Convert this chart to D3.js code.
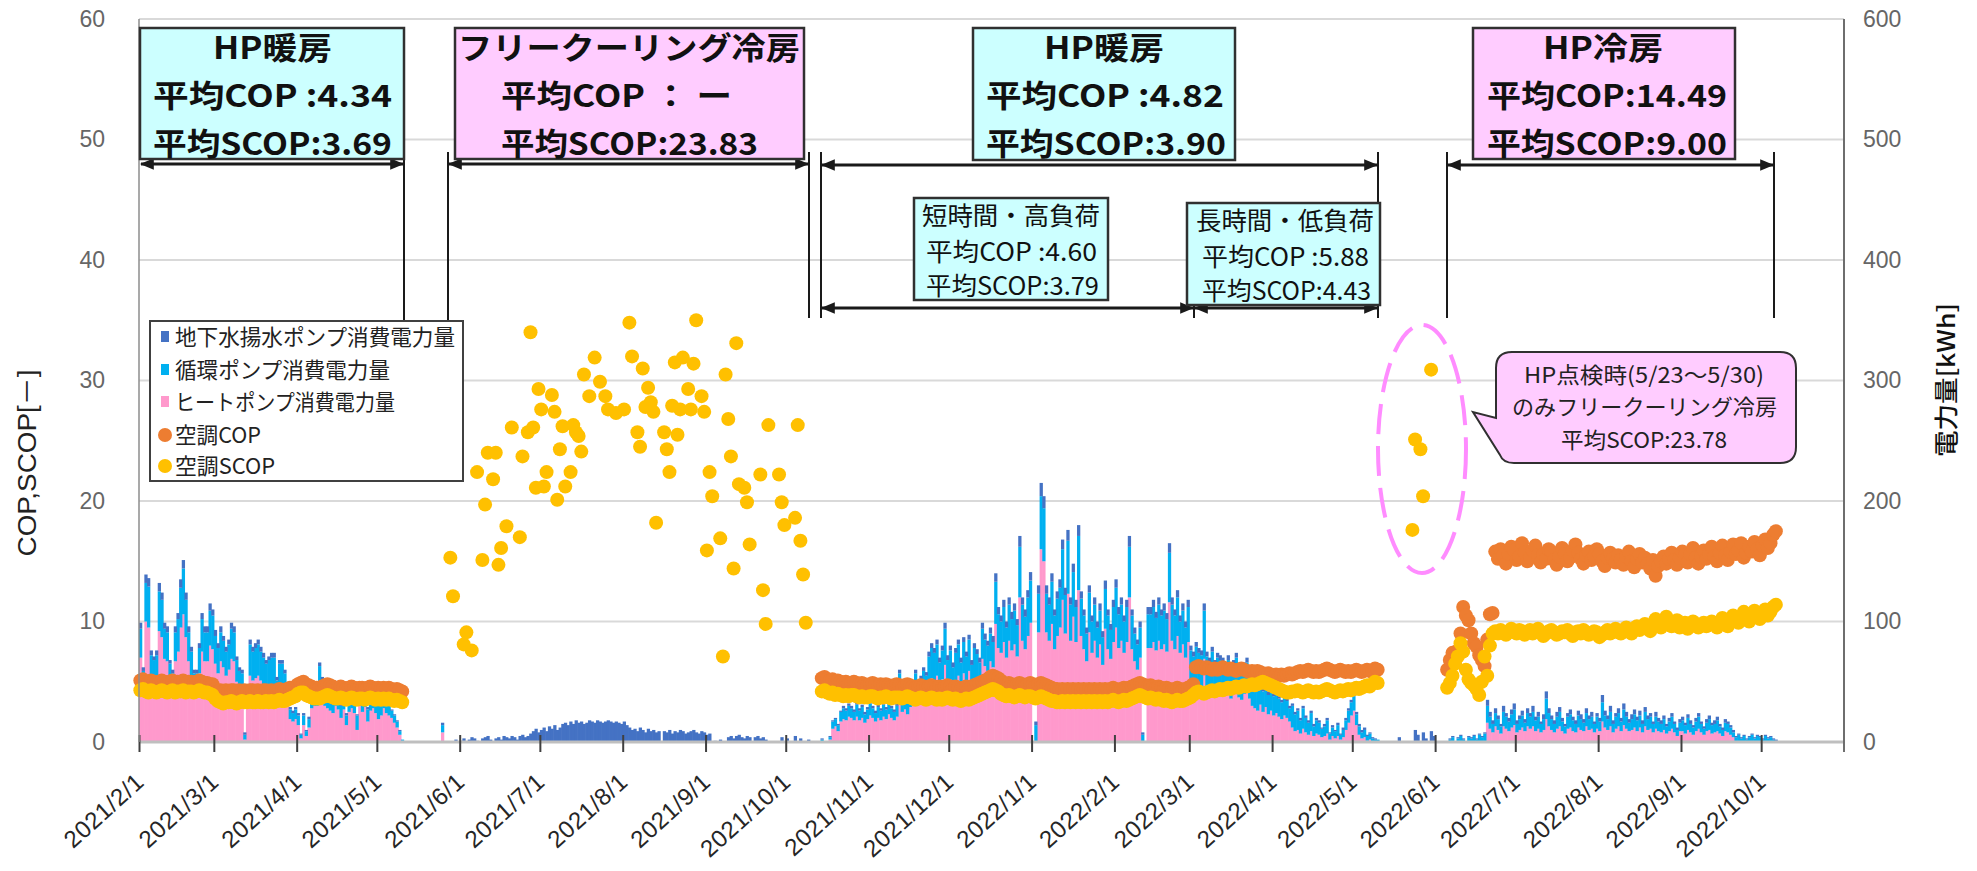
<!DOCTYPE html>
<html><head><meta charset="utf-8">
<script src="https://cdn.jsdelivr.net/npm/d3@7"></script>
<style>body{margin:0;background:#fff}svg{display:block}</style>
</head><body><svg id="c" width="1977" height="871"></svg>
<script>
// ---------- DATA ----------
const monthTicks = ["2021-02-01","2021-03-01","2021-04-01","2021-05-01","2021-06-01","2021-07-01","2021-08-01","2021-09-01","2021-10-01","2021-11-01","2021-12-01","2022-01-01","2022-02-01","2022-03-01","2022-04-01","2022-05-01","2022-06-01","2022-07-01","2022-08-01","2022-09-01","2022-10-01"];
const leftTicks = [0,10,20,30,40,50,60];
const rightTicks = [0,100,200,300,400,500,600];
const seriesNames = ["地下水揚水ポンプ消費電力量","循環ポンプ消費電力量","ヒートポンプ消費電力量","空調COP","空調SCOP"];

// daily energy [kWh] - heating 2021 (from 2021-02-01)
const h1HP = [70,44,100,95,53,50,53,92,87,69,67,48,42,67,75,95,106,87,67,55,42,42,57,75,67,67,80,77,65,57,67,62,55,60,69,67,50,43,42,2,32,55,51,53,55,51,48,44,46,48,48,35,44,44,39,30,19,17,19,
14,3,14,5,12,28,30,30,38,32,30,28,26,24,30,27,20,27,14,25,28,24,10,30,25,29,17,26,28,24,19,22,28,24,22,20,16,12,6,1];
const h1Circ = [24,15,32,34,19,18,19,33,31,25,24,17,15,24,27,33,38,31,24,20,15,15,21,27,24,24,29,28,23,21,24,22,20,21,25,24,18,16,15,4,11,26,24,25,26,24,22,21,22,22,22,16,21,21,18,14,8,7,8,
8,3,8,4,7,10,12,17,25,19,14,9,8,7,9,8,10,16,8,9,9,8,12,9,15,17,10,8,7,9,11,13,9,7,8,6,6,5,3,1];
const h1GW = [5,3,7,7,4,3,4,7,6,5,5,3,3,5,5,7,7,6,5,4,3,3,4,5,5,5,6,5,5,4,5,4,4,4,5,5,3,3,3,2,3,4,4,4,4,4,4,3,3,4,4,3,3,3,3,2,2,2,2,
2,1,2,1,2,2,2,2,3,3,2,2,2,2,2,2,2,3,2,2,2,2,1,2,3,3,2,2,2,2,2,3,2,2,1,1,1,1,1,0];
// free cooling 2021 (from 2021-05-12)
const fcHP = [0,0,0,0,0,0,0,0,0,0,0,0,0,8];
const fcCirc = [0,0,0,0,0,0,0,0,0,0,0,0,0,6];
const fcGW = [0,0,0,0,0,0,0,0,0,0,0,0,0,2,0,0,0,0,2,0,1,3,0,2,4,3,1,0,3,4,5,2,0,3,4,2,5,4,3,5,4,2,5,6,4,5,
7,9,11,8,10,12,9,13,11,14,10,12,15,16,14,17,15,18,16,17,15,16,18,17,16,18,17,16,17,18,17,16,17,16,15,17,14,
12,10,11,9,12,10,8,11,9,10,8,9,0,9,8,10,7,9,8,10,9,7,8,9,10,8,7,9,8,6,7,0,1,0,2,0,0,4,5,3,5,6,4,3,5,4,0,4,5,3,4,2,0,0,0,0,0,4,0,3,0,0,5,0,3,0,0,2,0];
// heating 2021-22 (from 2021-10-14)
const h2HP = [0,0,0,2,11,13,9,17,19,18,21,20,18,21,18,20,16,19,22,20,17,20,18,21,19,23,20,18,21,39,25,27,23,29,33,39,31,36,40,38,49,53,51,55,46,52,64,
47,52,42,51,55,46,57,49,59,44,53,50,46,69,63,59,67,62,98,78,74,83,70,84,76,81,71,120,84,77,88,99,0,0,91,160,150,91,84,98,77,88,95,118,90,123,84,104,83,126,
88,77,67,91,74,84,70,81,64,94,77,69,83,95,78,84,74,83,120,77,67,60,70,0,0,78,78,83,76,84,77,81,75,116,84,77,88,74,81,70,83,48,45,50,47,46,69,45,42,47,41,44,43,
42,39,43,36,41,44,37,35,40,42,36,30,28,26,31,25,29,23,26,22,24,21,19,22,20,17,12,9,10,7,11,8,6,9,5,7,6,4,5,7,2,5,3,5,2,4,10,16,22,26,14,6,3,4,1,2,0,0,0];
const h2Circ = [2,0,0,2,6,6,5,8,9,8,9,8,7,10,8,9,7,8,10,8,7,9,8,10,8,10,8,7,9,18,11,13,10,14,14,18,14,16,19,17,22,25,23,26,20,24,30,
21,24,20,23,26,20,26,22,26,20,25,23,20,25,22,21,23,21,35,28,26,29,25,30,26,28,26,42,30,27,32,35,0,14,32,44,44,32,30,35,28,31,33,42,32,44,30,37,29,45,
31,28,23,33,26,30,25,28,23,33,28,24,29,33,28,30,26,29,42,28,23,21,25,6,0,28,28,29,27,30,28,28,27,41,30,28,32,26,28,25,29,28,26,29,27,26,40,26,24,28,23,26,25,
24,22,25,21,23,26,21,20,22,24,21,22,19,19,22,17,20,16,18,16,17,15,14,16,14,11,18,14,16,11,17,12,10,15,8,11,10,7,8,11,5,7,6,9,4,6,8,10,11,12,9,7,5,6,4,5,3,2,2];
const h2GW = [1,0,0,1,1,1,1,1,2,2,2,2,2,2,2,2,2,2,2,2,2,2,2,2,2,2,2,2,2,3,2,2,2,2,3,3,3,3,3,3,4,4,4,4,4,4,5,
4,4,4,4,4,4,4,4,4,4,4,4,4,5,5,4,5,5,7,6,5,6,5,6,6,6,5,9,6,6,6,7,0,3,7,11,10,7,6,7,5,6,7,8,6,9,6,7,6,9,
6,5,5,6,5,6,5,6,5,7,5,5,6,7,6,6,5,6,9,5,5,4,5,2,0,6,6,6,5,6,5,6,5,8,6,5,6,5,6,5,6,4,4,4,4,4,6,4,4,4,4,4,4,
4,4,4,3,4,4,4,3,4,4,3,3,3,3,3,3,3,3,3,2,3,2,2,2,2,2,2,2,2,2,2,2,2,2,2,2,2,1,2,2,1,2,1,2,1,2,2,2,2,2,2,2,2,2,1,1,1,1,0];
// HP inspection gap (from 2022-05-13)
const gapGW = [0,0,0,0,0,4,0,0,0,0,0,10,6,0,8,3,0,9,5,0,0];
// cooling 2022 (from 2022-06-05)
const coolHP = [0,0,0,0,0,0,0,0,0,0,0,0,0,0,0,16,11,8,13,10,7,13,11,9,12,14,8,10,12,9,13,11,13,9,11,8,10,19,
13,10,8,11,13,9,7,11,12,9,8,12,10,9,13,10,11,8,11,9,17,12,10,13,8,11,13,9,14,11,9,10,12,9,12,8,13,10,11,8,11,9,
8,10,7,9,11,8,5,9,9,7,10,8,6,9,11,8,6,9,10,7,8,9,7,5,9,8,6,4,0,0,0,0,0,0,0,0,0,0,0,0,0,0,0,0];
const coolCirc = [0,2,4,0,3,5,2,0,4,3,5,2,6,4,7,14,10,7,11,9,6,12,10,8,11,13,7,9,10,7,11,10,12,9,10,7,9,17,
11,9,7,10,12,8,6,10,11,9,7,10,9,7,11,9,10,7,10,8,16,10,9,12,7,10,11,8,13,10,7,9,11,9,10,7,12,9,10,7,10,8,
7,9,6,8,10,7,5,7,9,7,10,7,6,8,10,7,5,7,9,7,7,9,6,5,7,7,6,4,4,6,3,5,2,4,6,3,5,4,2,5,3,4,2,1];
const coolGW = [0,1,1,0,1,1,1,0,1,1,1,1,1,1,1,5,4,3,4,3,2,5,3,3,4,5,3,3,4,3,4,3,5,3,4,2,4,6,
4,3,3,4,4,3,2,3,4,3,3,4,4,3,4,3,4,2,3,3,6,4,3,5,3,3,4,3,5,4,3,4,4,3,4,3,4,3,3,2,4,3,
3,3,2,3,3,2,2,3,3,2,3,3,2,3,3,2,2,3,3,2,3,3,2,2,3,2,2,2,1,1,1,1,1,1,1,1,1,1,1,1,1,1,1,1];

// daily COP / SCOP
const h1Cop = [5.1,5.2,5.0,4.9,5.1,5.0,4.9,5.0,5.1,5.0,4.9,5.0,5.1,4.9,5.0,5.0,5.1,4.9,5.0,5.0,4.9,5.0,5.1,5.0,4.9,4.9,4.8,4.8,
4.4,4.2,4.3,4.2,4.3,4.2,4.3,4.3,4.2,4.3,4.2,4.3,4.2,4.3,4.3,4.2,4.3,4.2,4.3,4.3,4.2,4.3,4.2,4.3,4.4,4.3,4.3,4.4,4.5,4.5,4.6,
4.8,4.9,5.0,4.8,4.7,4.6,4.5,4.5,
4.5,4.6,4.7,4.8,4.7,4.6,4.5,4.5,4.6,4.5,4.4,4.5,4.6,4.5,4.4,4.5,4.5,4.4,4.5,4.6,4.5,4.4,4.5,4.4,4.5,4.4,4.5,4.4,4.3,4.4,4.3,4.2];
const h1Scop = [4.3,4.4,4.2,4.1,4.3,4.2,4.1,4.2,4.3,4.2,4.1,4.2,4.3,4.1,4.2,4.2,4.3,4.1,4.2,4.2,4.1,4.2,4.3,4.2,4.1,4.1,4.0,3.9,
3.6,3.4,3.3,3.2,3.3,3.3,3.4,3.3,3.2,3.3,3.4,3.3,3.3,3.4,3.3,3.3,3.4,3.3,3.3,3.4,3.3,3.4,3.3,3.4,3.5,3.4,3.4,3.5,3.6,3.7,3.8,
4.0,4.1,4.1,3.9,3.8,3.7,3.6,3.6,
3.6,3.7,3.8,3.9,3.8,3.7,3.6,3.6,3.7,3.6,3.5,3.6,3.7,3.6,3.5,3.6,3.6,3.5,3.6,3.7,3.6,3.5,3.6,3.5,3.6,3.5,3.6,3.5,3.4,3.5,3.4,3.3];
const h2Cop = [5.3,5.4,5.2,5.1,5.2,5.0,5.1,
5.0,4.9,5.0,4.8,4.9,5.0,4.9,4.8,4.9,4.8,4.7,4.8,4.9,4.8,4.7,4.8,4.7,4.8,4.7,4.6,4.7,4.8,
4.7,4.6,4.7,4.8,4.7,4.6,4.5,4.6,4.7,4.6,4.5,4.6,4.7,4.6,4.5,4.6,4.5,4.6,4.7,4.6,4.5,4.6,4.5,4.4,4.5,4.6,4.5,4.6,4.7,4.8,4.9,5.0,5.1,5.2,
5.4,5.5,5.4,5.3,5.1,
4.9,4.8,4.9,4.8,4.7,4.8,4.9,4.8,4.7,4.8,4.9,4.8,4.7,4.8,4.9,4.8,4.7,4.6,4.5,4.4,4.4,4.3,
4.4,4.3,4.4,4.3,4.4,4.3,4.4,4.3,4.4,4.3,4.4,4.3,4.4,4.3,4.4,4.3,4.4,4.3,4.4,4.5,4.4,4.3,4.4,4.5,4.4,4.5,4.6,4.7,
4.8,4.9,4.8,4.7,4.6,4.7,4.6,4.5,4.6,
4.5,4.4,4.5,4.4,4.3,4.4,4.5,4.4,4.3,4.4,4.5,4.6,4.8,
6.2,6.3,6.2,6.1,6.2,6.1,6.0,6.1,6.0,6.1,6.2,6.1,6.0,6.1,6.0,5.9,6.0,6.1,6.0,5.9,5.8,5.9,5.8,5.9,5.8,
5.7,5.6,5.7,5.6,5.5,5.6,5.5,5.6,5.5,5.6,5.7,5.6,5.7,5.8,
5.9,5.8,5.9,6.0,5.9,5.8,5.9,5.8,5.9,6.0,6.1,6.0,5.9,5.8,5.9,6.0,5.9,5.8,5.9,5.8,5.9,6.0,5.9,5.8,5.9,6.0,5.9,5.8,6.1,6.0];
const h2Scop = [4.2,4.3,4.1,4.0,4.1,3.9,4.0,
3.9,3.8,3.9,3.8,3.9,3.9,3.8,3.7,3.8,3.7,3.7,3.8,3.8,3.7,3.6,3.7,3.7,3.8,3.7,3.6,3.7,3.7,
3.7,3.6,3.7,3.8,3.7,3.6,3.5,3.6,3.7,3.6,3.5,3.6,3.7,3.6,3.5,3.6,3.5,3.6,3.7,3.6,3.5,3.6,3.5,3.4,3.5,3.6,3.5,3.6,3.7,3.8,3.9,4.0,4.1,4.2,
4.3,4.4,4.3,4.2,4.0,
3.9,3.8,3.9,3.8,3.7,3.8,3.9,3.8,3.7,3.8,3.8,3.7,3.6,3.7,3.8,3.7,3.6,3.5,3.4,3.4,3.3,3.3,
3.4,3.3,3.4,3.3,3.4,3.3,3.4,3.3,3.4,3.3,3.4,3.3,3.4,3.3,3.4,3.3,3.4,3.3,3.4,3.5,3.4,3.3,3.4,3.5,3.4,3.5,3.6,3.7,
3.8,3.9,3.8,3.7,3.6,3.7,3.6,3.5,3.6,
3.5,3.4,3.5,3.4,3.3,3.4,3.5,3.4,3.4,3.5,3.6,3.7,3.9,
4.1,4.2,4.1,4.0,4.1,4.2,4.3,4.2,4.3,4.4,4.3,4.4,4.5,4.4,4.5,4.6,4.5,4.6,4.7,4.6,4.7,4.8,4.7,4.8,4.9,
5.0,4.9,4.8,4.7,4.6,4.5,4.4,4.3,4.2,4.1,4.1,4.2,4.2,4.3,
4.2,4.1,4.2,4.3,4.2,4.1,4.2,4.1,4.2,4.3,4.4,4.3,4.2,4.1,4.2,4.3,4.2,4.3,4.4,4.3,4.4,4.5,4.4,4.5,4.6,4.7,4.6,4.8,5.0,4.9];
const coolCop = [6.0,6.8,7.4,7.0,7.6,9.0,11.2,10.5,10.1,9.0,8.2,7.9,7.2,6.8,6.3,8.5,10.6,10.7,
15.8,15.2,16.0,15.5,14.8,15.6,16.2,15.9,15.1,15.4,16.5,15.7,15.0,15.3,15.9,16.3,15.5,14.9,15.6,15.2,
16.0,15.8,15.1,14.7,15.4,16.1,15.6,15.0,15.3,15.9,16.4,15.7,15.2,14.8,15.5,15.8,15.1,15.4,16.0,15.6,
15.0,14.6,15.3,15.7,15.2,14.9,15.5,15.1,14.7,15.4,15.8,15.0,14.5,15.2,15.6,14.9,15.3,14.8,14.4,15.1,
13.8,14.6,15.0,15.4,14.8,15.2,15.7,15.1,14.7,15.3,15.8,15.5,14.9,15.6,16.1,15.3,14.8,15.4,15.9,15.2,
15.6,16.2,15.4,15.0,15.7,16.3,15.5,15.1,15.8,16.4,15.6,15.9,16.5,15.3,15.7,16.2,15.8,16.6,16.0,15.5,
16.3,16.8,16.1,16.5,17.2,17.5];
const coolScop = [4.5,4.9,5.5,6.5,7.1,8.2,7.5,6.0,5.2,4.9,4.7,4.4,3.9,5.0,7.1,5.5,8.0,9.0,
9.2,9.0,9.3,9.1,8.9,9.2,9.4,9.1,9.0,9.3,9.2,8.9,9.1,9.3,9.0,9.2,9.4,9.1,8.8,9.0,
9.2,9.3,9.1,8.9,9.0,9.2,9.1,9.3,9.0,8.8,9.1,9.2,9.0,9.3,9.1,8.9,9.0,9.2,9.1,8.7,
8.9,9.1,9.3,9.0,9.2,9.4,9.1,9.0,9.3,9.5,9.2,9.0,9.4,9.6,9.3,9.5,9.8,9.4,9.2,9.6,
10.2,9.8,9.5,9.7,10.4,9.9,9.6,9.8,10.1,9.5,9.7,9.9,9.4,9.6,10.0,9.8,9.5,9.7,9.9,9.6,
9.8,10.0,9.7,9.5,9.9,10.3,9.8,9.6,10.0,10.5,10.2,9.9,10.4,10.8,10.3,10.0,10.6,10.9,10.4,10.2,
10.7,11.0,10.5,10.8,11.2,11.4];
// free-cooling SCOP (day offset from 2021-02-01)
const fcScopDay = [116,117,121,122,124,126,128,129,130,132,133,134,135,137,139,142,143,145,146,147,148,149,150,151,152,154,155,156,157,158,159,161,162,163,164,165,166,168,170,172,174,175,178,181,183,184,186,187,188,189,190,191,192,193,196,197,198,199,200,201,202,203,205,206,207,208,210,211,212,213,214,217,218,219,220,221,222,223,224,226,227,228,232,233,234,235,239,240,241,245,246,247,248,249];
const fcScopVal = [15.3,12.1,8.1,9.1,7.6,22.4,15.1,19.7,24.0,21.8,24.0,14.7,16.1,17.9,26.1,17.0,23.7,25.7,34.0,26.1,21.1,29.3,27.6,21.2,22.4,28.8,27.4,20.1,24.3,26.2,21.2,22.4,26.3,25.7,25.4,24.1,30.5,28.7,31.9,29.9,28.7,27.6,27.3,27.6,34.8,32.0,25.7,24.5,31.0,27.8,29.4,28.2,27.4,18.2,25.7,24.3,22.4,27.9,31.5,25.5,27.6,31.9,29.3,27.6,31.4,35.0,28.7,27.4,15.9,22.4,20.4,16.9,7.1,30.5,26.8,23.7,14.4,33.1,21.4,21.1,19.9,16.4,22.2,12.6,9.8,26.3,22.2,19.9,18.0,18.6,26.3,16.7,13.9,9.9];
const chkScopDay = [476,477,479,480,483];
const chkScopVal = [17.6,25.1,24.3,20.4,30.9];

// ---------- CHART ----------
const parse = d3.timeParse("%Y-%m-%d");
const base = parse("2021-02-01");
const x = d3.scaleTime().domain([base, parse("2022-11-01")]).range([139,1844]);
const yL = d3.scaleLinear().domain([0,60]).range([742,19]);
const yR = d3.scaleLinear().domain([0,600]).range([742,19]);
const svg = d3.select("#c");
const LAT = "'Liberation Sans', Arial, sans-serif";
const JP = "'Noto Sans CJK JP', sans-serif";
const COL = {gw:"#4472C4", circ:"#00B0F0", hp:"#FF99CC", cop:"#ED7D31", scop:"#FFC000"};

// gridlines
svg.append("g").selectAll("line").data(leftTicks.slice(1)).join("line")
  .attr("x1",139).attr("x2",1844).attr("y1",d=>yL(d)).attr("y2",d=>yL(d))
  .attr("stroke","#D9D9D9").attr("stroke-width",2);

// bars
const segments = [
  {start:"2021-02-01", hp:h1HP, circ:h1Circ, gw:h1GW},
  {start:"2021-05-12", hp:fcHP, circ:fcCirc, gw:fcGW},
  {start:"2021-10-14", hp:h2HP, circ:h2Circ, gw:h2GW},
  {start:"2022-05-13", hp:[], circ:[], gw:gapGW},
  {start:"2022-06-05", hp:coolHP, circ:coolCirc, gw:coolGW}];
const rows = [];
segments.forEach(s=>{
  const s0 = parse(s.start);
  const n = Math.max(s.hp.length, s.circ.length, s.gw.length);
  for (let i=0;i<n;i++) rows.push({date:d3.timeDay.offset(s0,i), hp:s.hp[i]||0, circ:s.circ[i]||0, gw:s.gw[i]||0});
});
const stacked = d3.stack().keys(["hp","circ","gw"])(rows);
svg.append("g").selectAll("g").data(stacked).join("g").attr("fill",d=>COL[d.key])
  .selectAll("rect").data(d=>d.filter(p=>p[1]>p[0])).join("rect")
  .attr("x",p=>x(p.data.date))
  .attr("width",p=>x(d3.timeDay.offset(p.data.date,1))-x(p.data.date)+0.6)
  .attr("y",p=>yR(p[1])).attr("height",p=>yR(p[0])-yR(p[1]));

// axis baseline
svg.append("line").attr("x1",139).attr("x2",1844).attr("y1",742).attr("y2",742).attr("stroke","#BFBFBF").attr("stroke-width",3);

// points
const half = (x(d3.timeDay.offset(base,1))-x(base))/2;
const ser = (start, vals) => { const s0=parse(start); return vals.map((v,i)=>({date:d3.timeDay.offset(s0,i), v})); };
const copPts = [...ser("2021-02-01",h1Cop), ...ser("2021-10-14",h2Cop), ...ser("2022-06-05",coolCop)];
const scopPts = [...ser("2021-02-01",h1Scop),
  ...fcScopDay.map((d,i)=>({date:d3.timeDay.offset(base,d), v:fcScopVal[i]})),
  ...ser("2021-10-14",h2Scop),
  ...chkScopDay.map((d,i)=>({date:d3.timeDay.offset(base,d), v:chkScopVal[i]})),
  ...ser("2022-06-05",coolScop)];
svg.append("g").attr("fill",COL.cop).selectAll("circle").data(copPts).join("circle")
  .attr("cx",d=>x(d.date)+half).attr("cy",d=>yL(d.v)).attr("r",7);
svg.append("g").attr("fill",COL.scop).selectAll("circle").data(scopPts).join("circle")
  .attr("cx",d=>x(d.date)+half).attr("cy",d=>yL(d.v)).attr("r",7);

// axes
const gx = svg.append("g").attr("transform","translate(0,742)")
  .call(d3.axisBottom(x).tickValues(monthTicks.map(parse)).tickFormat(d3.timeFormat("%Y/%-m/%-d")).tickSize(10));
gx.select(".domain").remove();
gx.selectAll(".tick line").attr("y1",-7).attr("y2",10).attr("stroke","#404040").attr("stroke-width",2);
gx.selectAll(".tick text").attr("x",0).attr("y",0).attr("dy",0)
  .attr("transform","translate(6,42) rotate(-42)").attr("text-anchor","end")
  .attr("font-family",LAT).attr("font-size",24).attr("letter-spacing","0.5px").attr("fill","#262626");

const gl = svg.append("g").attr("transform","translate(139,0)")
  .call(d3.axisLeft(yL).tickValues(leftTicks).tickSize(0).tickPadding(34));
gl.select(".domain").remove();
gl.selectAll(".tick text").attr("font-family",LAT).attr("font-size",23).attr("fill","#666");
svg.append("line").attr("x1",139).attr("x2",139).attr("y1",19).attr("y2",742).attr("stroke","#8C8C8C").attr("stroke-width",1.5);

const gr = svg.append("g").attr("transform","translate(1844,0)")
  .call(d3.axisRight(yR).tickValues(rightTicks).tickSize(0).tickPadding(19));
gr.select(".domain").remove();
gr.selectAll(".tick text").attr("font-family",LAT).attr("font-size",23).attr("fill","#666");
svg.append("line").attr("x1",1844).attr("x2",1844).attr("y1",19).attr("y2",752).attr("stroke","#6E6E6E").attr("stroke-width",2);

// axis titles
svg.append("text").attr("transform","translate(36,463) rotate(-90)").attr("text-anchor","middle")
  .attr("font-family",LAT+",'Noto Sans CJK JP'").attr("font-size",25).attr("fill","#222")
  .attr("textLength",187).attr("lengthAdjust","spacingAndGlyphs").text("COP,SCOP[－]");
svg.append("text").attr("transform","translate(1955,380) rotate(-90)").attr("text-anchor","middle")
  .attr("font-family",JP).attr("font-size",24).attr("font-weight",500).attr("fill","#111")
  .attr("textLength",154).attr("lengthAdjust","spacingAndGlyphs").text("電力量[kWh]");

// ---------- annotations ----------
const defs = svg.append("defs");
defs.append("marker").attr("id","ah").attr("viewBox","0 0 12 10").attr("refX",11).attr("refY",5)
  .attr("markerWidth",14).attr("markerHeight",12).attr("markerUnits","userSpaceOnUse").attr("orient","auto-start-reverse")
  .append("path").attr("d","M0,0 L12,5 L0,10 z").attr("fill","#1a1a1a");

const vlines = [[404,152,321],[448,152,321],[809,152,318],[821,152,318],[1378,152,318],[1447,152,318],[1774,152,318],[1194,298,318]];
svg.append("g").selectAll("line").data(vlines).join("line")
  .attr("x1",d=>d[0]).attr("x2",d=>d[0]).attr("y1",d=>d[1]).attr("y2",d=>d[2])
  .attr("stroke","#1a1a1a").attr("stroke-width",2);
const arrows = [[140,404,164],[448,809,164],[821,1378,165],[1447,1774,165],[821,1194,308],[1194,1378,308]];
svg.append("g").selectAll("line").data(arrows).join("line")
  .attr("x1",d=>d[0]+1).attr("x2",d=>d[1]-1).attr("y1",d=>d[2]).attr("y2",d=>d[2])
  .attr("stroke","#1a1a1a").attr("stroke-width",3)
  .attr("marker-start","url(#ah)").attr("marker-end","url(#ah)");

function box(b){
  svg.append("rect").attr("x",b.x).attr("y",b.y).attr("width",b.w).attr("height",b.h)
    .attr("fill",b.fill).attr("stroke","#303030").attr("stroke-width",2.5);
  b.lines.forEach(l=>{
    svg.append("text").attr("x",l[0]).attr("y",l[1]).attr("textLength",l[2]).attr("lengthAdjust","spacingAndGlyphs")
      .attr("font-family",JP).attr("font-size",b.fs).attr("font-weight",b.fw).attr("fill","#111").text(l[3]);
  });
}
box({x:140,y:28,w:264,h:131,fill:"#CCFFFF",fs:31,fw:700,lines:[[213,59,119,"HP暖房"],[153,107,239,"平均COP :4.34"],[153,155,239,"平均SCOP:3.69"]]});
box({x:455,y:28,w:349,h:131,fill:"#FFCCFF",fs:31,fw:700,lines:[[458,59,342,"フリークーリング冷房"],[501,107,231,"平均COP ： ー"],[501,155,257,"平均SCOP:23.83"]]});
box({x:973,y:28,w:262,h:132,fill:"#CCFFFF",fs:31,fw:700,lines:[[1044,59,120,"HP暖房"],[986,107,238,"平均COP :4.82"],[986,155,240,"平均SCOP:3.90"]]});
box({x:1473,y:28,w:262,h:131,fill:"#FFCCFF",fs:31,fw:700,lines:[[1543,59,120,"HP冷房"],[1487,107,240,"平均COP:14.49"],[1487,155,240,"平均SCOP:9.00"]]});
box({x:914,y:198,w:194,h:102,fill:"#CCFFFF",fs:25,fw:400,lines:[[922,225,178,"短時間・高負荷"],[926,261,171,"平均COP :4.60"],[926,295,173,"平均SCOP:3.79"]]});
box({x:1187,y:203,w:193,h:102,fill:"#CCFFFF",fs:25,fw:400,lines:[[1196,230,178,"長時間・低負荷"],[1202,266,167,"平均COP :5.88"],[1202,300,169,"平均SCOP:4.43"]]});

// legend
svg.append("rect").attr("x",150).attr("y",321).attr("width",313).attr("height",160)
  .attr("fill","#fff").attr("stroke","#404040").attr("stroke-width",2);
const legY = [337,370,402,435,466];
const legLen = [280,215,220,86,100];
const legCol = [COL.gw, COL.circ, COL.hp, COL.cop, COL.scop];
seriesNames.forEach((nm,i)=>{
  if (i<3) svg.append("rect").attr("x",161).attr("y",legY[i]-6).attr("width",8).attr("height",11).attr("fill",legCol[i]);
  else svg.append("circle").attr("cx",165).attr("cy",legY[i]).attr("r",7).attr("fill",legCol[i]);
  svg.append("text").attr("x",175).attr("y",legY[i]+8).attr("textLength",legLen[i]).attr("lengthAdjust","spacingAndGlyphs")
    .attr("font-family",JP).attr("font-size",22).attr("fill","#222").text(nm);
});

// dashed ellipse
svg.append("ellipse").attr("cx",1422).attr("cy",449).attr("rx",44).attr("ry",124)
  .attr("fill","none").attr("stroke","#FF8CFF").attr("stroke-width",4).attr("stroke-dasharray","30 12");

// callout
svg.append("path").attr("d","M1512,352 H1780 Q1796,352 1796,368 V447 Q1796,463 1780,463 H1514 Q1503,463 1500,455 L1473,412 L1496,418 V368 Q1496,352 1512,352 Z")
  .attr("fill","#FFCCFF").attr("stroke","#303030").attr("stroke-width",2);
[[1524,383,240,"HP点検時(5/23～5/30)"],[1512,415,265,"のみフリークーリング冷房"],[1561,448,166,"平均SCOP:23.78"]].forEach(l=>{
  svg.append("text").attr("x",l[0]).attr("y",l[1]).attr("textLength",l[2]).attr("lengthAdjust","spacingAndGlyphs")
    .attr("font-family",JP).attr("font-size",22).attr("fill","#222").text(l[3]);
});
</script></body></html>
